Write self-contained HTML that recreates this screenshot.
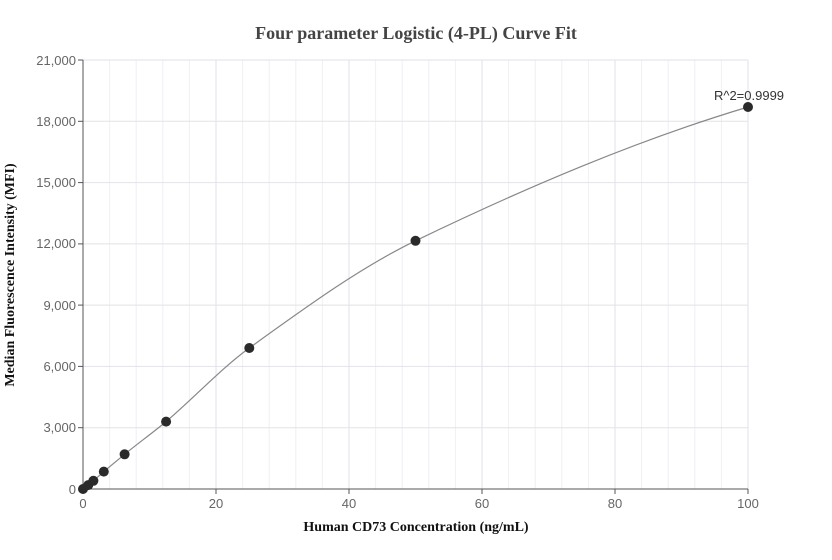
<!DOCTYPE html>
<html><head><meta charset="utf-8"><style>body{margin:0;background:#fff}svg{display:block}</style></head>
<body>
<svg width="832" height="560" xmlns="http://www.w3.org/2000/svg" font-family="Liberation Sans, sans-serif">
<rect width="832" height="560" fill="#fff"/>
<g stroke="#f0f0f4" stroke-width="1">
<line x1="109.6" y1="60" x2="109.6" y2="489"/><line x1="136.2" y1="60" x2="136.2" y2="489"/><line x1="162.8" y1="60" x2="162.8" y2="489"/><line x1="189.4" y1="60" x2="189.4" y2="489"/>
<line x1="242.6" y1="60" x2="242.6" y2="489"/><line x1="269.2" y1="60" x2="269.2" y2="489"/><line x1="295.8" y1="60" x2="295.8" y2="489"/><line x1="322.4" y1="60" x2="322.4" y2="489"/>
<line x1="375.6" y1="60" x2="375.6" y2="489"/><line x1="402.2" y1="60" x2="402.2" y2="489"/><line x1="428.8" y1="60" x2="428.8" y2="489"/><line x1="455.4" y1="60" x2="455.4" y2="489"/>
<line x1="508.6" y1="60" x2="508.6" y2="489"/><line x1="535.2" y1="60" x2="535.2" y2="489"/><line x1="561.8" y1="60" x2="561.8" y2="489"/><line x1="588.4" y1="60" x2="588.4" y2="489"/>
<line x1="641.6" y1="60" x2="641.6" y2="489"/><line x1="668.2" y1="60" x2="668.2" y2="489"/><line x1="694.8" y1="60" x2="694.8" y2="489"/><line x1="721.4" y1="60" x2="721.4" y2="489"/>
</g>
<g stroke="#e2e2e8" stroke-width="1">
<line x1="216" y1="60" x2="216" y2="489"/><line x1="349" y1="60" x2="349" y2="489"/><line x1="482" y1="60" x2="482" y2="489"/><line x1="615" y1="60" x2="615" y2="489"/><line x1="748" y1="60" x2="748" y2="489"/>
<line x1="83" y1="60" x2="748" y2="60"/><line x1="83" y1="121.3" x2="748" y2="121.3"/><line x1="83" y1="182.6" x2="748" y2="182.6"/><line x1="83" y1="243.9" x2="748" y2="243.9"/><line x1="83" y1="305.1" x2="748" y2="305.1"/><line x1="83" y1="366.4" x2="748" y2="366.4"/><line x1="83" y1="427.7" x2="748" y2="427.7"/>
</g>
<g stroke="#555" stroke-width="1">
<line x1="83" y1="60" x2="83" y2="489"/><line x1="83" y1="489" x2="748" y2="489"/>
<line x1="78" y1="60" x2="83" y2="60"/><line x1="78" y1="121.3" x2="83" y2="121.3"/><line x1="78" y1="182.6" x2="83" y2="182.6"/><line x1="78" y1="243.9" x2="83" y2="243.9"/><line x1="78" y1="305.1" x2="83" y2="305.1"/><line x1="78" y1="366.4" x2="83" y2="366.4"/><line x1="78" y1="427.7" x2="83" y2="427.7"/><line x1="78" y1="489" x2="83" y2="489"/>
<line x1="83" y1="489" x2="83" y2="494"/><line x1="216" y1="489" x2="216" y2="494"/><line x1="349" y1="489" x2="349" y2="494"/><line x1="482" y1="489" x2="482" y2="494"/><line x1="615" y1="489" x2="615" y2="494"/><line x1="748" y1="489" x2="748" y2="494"/>
</g>
<g fill="#666" font-size="13" text-anchor="end">
<text x="76" y="65">21,000</text><text x="76" y="126">18,000</text><text x="76" y="187">15,000</text><text x="76" y="248">12,000</text><text x="76" y="310">9,000</text><text x="76" y="371">6,000</text><text x="76" y="432">3,000</text><text x="76" y="494">0</text>
</g>
<g fill="#666" font-size="13" text-anchor="middle">
<text x="83" y="508">0</text><text x="216" y="508">20</text><text x="349" y="508">40</text><text x="482" y="508">60</text><text x="615" y="508">80</text><text x="748" y="508">100</text>
</g>
<path fill="none" stroke="#888" stroke-width="1.2" d="M83,489 L88.2,485.1 L93.4,480.8 L103.8,471.6 L124.6,454.3 C138.5,443 152.3,433 166.1,421.6 C193.8,398 221.6,368.1 249.3,348 C304.7,308.1 360.1,267.6 415.5,240.8 C526.3,187.3 637.2,140.2 748,107"/>
<g fill="#2a2a2a">
<circle cx="83" cy="489" r="5"/><circle cx="88.2" cy="485.1" r="5"/><circle cx="93.4" cy="480.8" r="5"/><circle cx="103.8" cy="471.6" r="5"/><circle cx="124.6" cy="454.3" r="5"/><circle cx="166.1" cy="421.6" r="5"/><circle cx="249.3" cy="348" r="5"/><circle cx="415.5" cy="240.8" r="5"/><circle cx="748" cy="107" r="5"/>
</g>
<text x="749" y="100" font-size="13" fill="#333" text-anchor="middle">R^2=0.9999</text>
<text x="416" y="39" font-family="Liberation Serif, serif" font-weight="bold" font-size="18" fill="#444" text-anchor="middle">Four parameter Logistic (4-PL) Curve Fit</text>
<text x="416" y="531" font-family="Liberation Serif, serif" font-weight="bold" font-size="14" fill="#111" text-anchor="middle">Human CD73 Concentration (ng/mL)</text>
<text transform="translate(14,275) rotate(-90)" font-family="Liberation Serif, serif" font-weight="bold" font-size="14" fill="#111" text-anchor="middle">Median Fluorescence Intensity (MFI)</text>
</svg>
</body></html>
